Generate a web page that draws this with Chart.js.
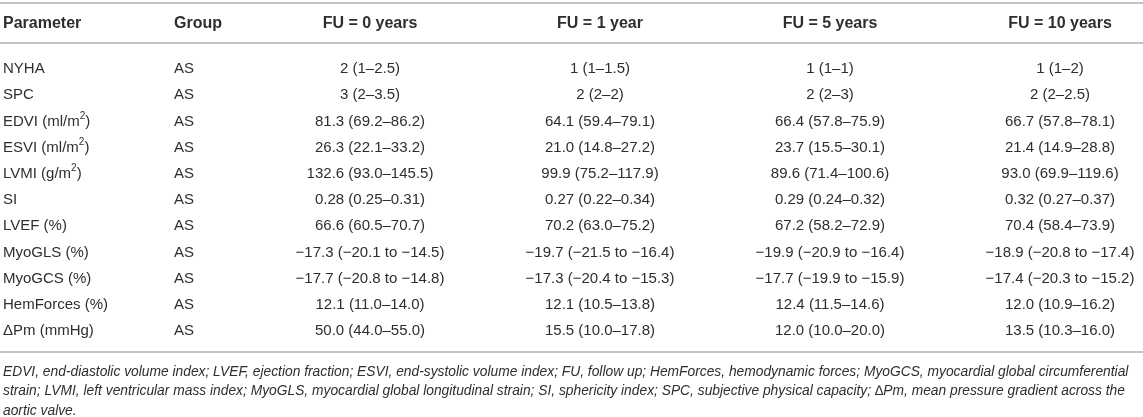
<!DOCTYPE html>
<html>
<head>
<meta charset="utf-8">
<script src="https://cdn.jsdelivr.net/npm/chart.js@4"></script>
<style>
  html, body { margin: 0; padding: 0; background: #fff; }
  #wrap { width: 1143px; height: 417px; }
</style>
</head>
<body>
<div id="wrap"><canvas id="tableChart" width="1143" height="417"></canvas></div>
<script>
// DATA
const columns = ['FU = 0 years', 'FU = 1 year', 'FU = 5 years', 'FU = 10 years'];
const parameters = ['NYHA', 'SPC', 'EDVI (ml/m²)', 'ESVI (ml/m²)', 'LVMI (g/m²)', 'SI', 'LVEF (%)',
  'MyoGLS (%)', 'MyoGCS (%)', 'HemForces (%)', 'ΔPm (mmHg)'];
const groups = ['AS', 'AS', 'AS', 'AS', 'AS', 'AS', 'AS', 'AS', 'AS', 'AS', 'AS'];
const fu0 = ['2 (1–2.5)', '3 (2–3.5)', '81.3 (69.2–86.2)', '26.3 (22.1–33.2)', '132.6 (93.0–145.5)',
  '0.28 (0.25–0.31)', '66.6 (60.5–70.7)', '−17.3 (−20.1 to −14.5)', '−17.7 (−20.8 to −14.8)',
  '12.1 (11.0–14.0)', '50.0 (44.0–55.0)'];
const fu1 = ['1 (1–1.5)', '2 (2–2)', '64.1 (59.4–79.1)', '21.0 (14.8–27.2)', '99.9 (75.2–117.9)',
  '0.27 (0.22–0.34)', '70.2 (63.0–75.2)', '−19.7 (−21.5 to −16.4)', '−17.3 (−20.4 to −15.3)',
  '12.1 (10.5–13.8)', '15.5 (10.0–17.8)'];
const fu5 = ['1 (1–1)', '2 (2–3)', '66.4 (57.8–75.9)', '23.7 (15.5–30.1)', '89.6 (71.4–100.6)',
  '0.29 (0.24–0.32)', '67.2 (58.2–72.9)', '−19.9 (−20.9 to −16.4)', '−17.7 (−19.9 to −15.9)',
  '12.4 (11.5–14.6)', '12.0 (10.0–20.0)'];
const fu10 = ['1 (1–2)', '2 (2–2.5)', '66.7 (57.8–78.1)', '21.4 (14.9–28.8)', '93.0 (69.9–119.6)',
  '0.32 (0.27–0.37)', '70.4 (58.4–73.9)', '−18.9 (−20.8 to −17.4)', '−17.4 (−20.3 to −15.2)',
  '12.0 (10.9–16.2)', '13.5 (10.3–16.0)'];
const footnote = [
  'EDVI, end-diastolic volume index; LVEF, ejection fraction; ESVI, end-systolic volume index; FU, follow up; HemForces, hemodynamic forces; MyoGCS, myocardial global circumferential',
  'strain; LVMI, left ventricular mass index; MyoGLS, myocardial global longitudinal strain; SI, sphericity index; SPC, subjective physical capacity; ∆Pm, mean pressure gradient across the',
  'aortic valve.'
];

const TEXT = '#2e2e2e';
const RULE = '#c4c4c4';
const FONT = '"Liberation Sans", Arial, sans-serif';
const series = [fu0, fu1, fu5, fu10];

// text with the ² drawn as a small raised 2
function drawRich(ctx, str, x, y, size) {
  const parts = str.split('²');
  let cx = x;
  parts.forEach((p, i) => {
    ctx.font = size + 'px ' + FONT;
    ctx.fillText(p, cx, y);
    cx += ctx.measureText(p).width;
    if (i < parts.length - 1) {
      ctx.font = Math.round(size * 0.66) + 'px ' + FONT;
      ctx.fillText('2', cx, y - size * 0.36);
      cx += ctx.measureText('2').width;
    }
  });
}

const tablePlugin = {
  id: 'tablePlugin',
  afterDatasetsDraw(chart) {
    const ctx = chart.ctx;
    const xs = chart.scales.x, ys = chart.scales.y;
    const w = chart.width;
    const top = ys.top;
    ctx.save();

    // rules
    ctx.strokeStyle = RULE;
    ctx.lineWidth = 2;
    [top - 66, top - 26, ys.bottom + 21].forEach(yy => {
      ctx.beginPath();
      ctx.moveTo(0, yy);
      ctx.lineTo(w, yy);
      ctx.stroke();
    });

    ctx.fillStyle = TEXT;
    ctx.textBaseline = 'middle';

    // header
    const hy = top - 45;
    ctx.font = 'bold 16px ' + FONT;
    ctx.textAlign = 'left';
    ctx.fillText('Parameter', 3, hy);
    ctx.fillText('Group', 174, hy);
    ctx.textAlign = 'center';
    columns.forEach(c => ctx.fillText(c, xs.getPixelForValue(columns.indexOf(c)), hy));

    // first two columns
    ctx.textAlign = 'left';
    parameters.forEach((p, i) => {
      const yy = ys.getPixelForValue(i);
      drawRich(ctx, p, 3, yy, 15);
      ctx.font = '15px ' + FONT;
      ctx.fillText(groups[i], 174, yy);
    });

    // value cells at the dataset points
    ctx.textAlign = 'center';
    ctx.font = '15px ' + FONT;
    chart.data.datasets.forEach((ds, di) => {
      chart.getDatasetMeta(di).data.forEach((pt, i) => {
        ctx.fillText(series[di][i], pt.x, pt.y);
      });
    });

    // footnote, sized so the first line fills the width
    ctx.textAlign = 'left';
    let fs = 14;
    ctx.font = 'italic ' + fs + 'px ' + FONT;
    fs = Math.min(15, fs * 1126 / ctx.measureText(footnote[0]).width);
    ctx.font = 'italic ' + fs.toFixed(2) + 'px ' + FONT;
    footnote.forEach((line, i) => ctx.fillText(line, 3, ys.bottom + 41 + i * 19.5));

    ctx.restore();
  }
};

new Chart(document.getElementById('tableChart'), {
  type: 'scatter',
  data: {
    datasets: series.map((s, ci) => ({
      label: columns[ci],
      data: s.map((v, ri) => ({ x: columns[ci], y: parameters[ri] })),
      pointRadius: 0,
      pointHoverRadius: 0
    }))
  },
  options: {
    responsive: false,
    animation: false,
    layout: { padding: { left: 370, right: 83, top: 69, bottom: 86 } },
    scales: {
      x: { type: 'category', labels: columns, display: false, offset: false },
      y: { type: 'category', labels: parameters, display: false, offset: false }
    },
    plugins: { legend: { display: false }, tooltip: { enabled: false } }
  },
  plugins: [tablePlugin]
});
</script>
</body>
</html>
